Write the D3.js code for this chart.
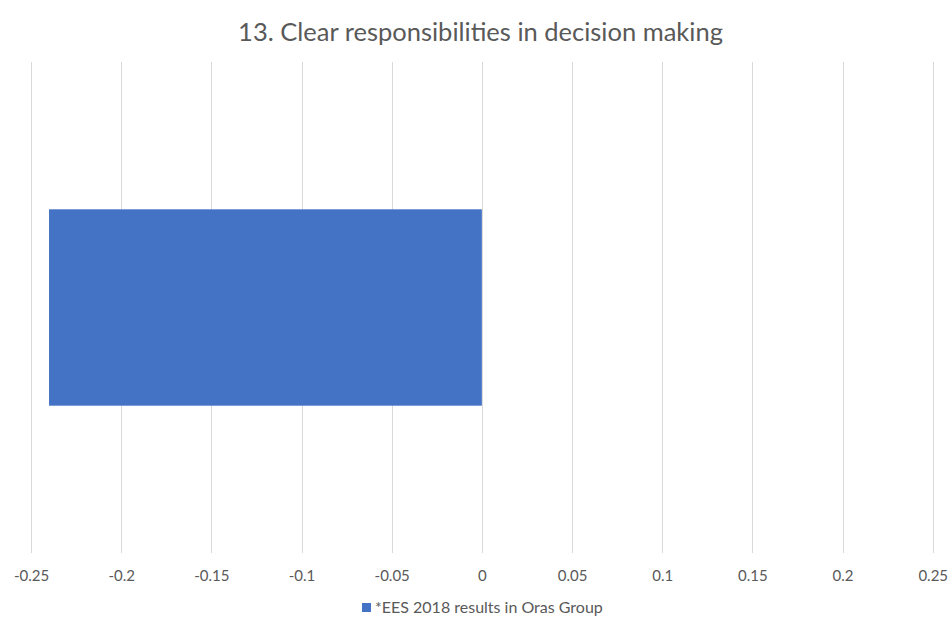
<!DOCTYPE html>
<html><head><meta charset="utf-8">
<script src="https://cdn.jsdelivr.net/npm/d3@7"></script>
<style>body{margin:0;background:#fff}svg{display:block}</style>
</head><body>
<script>
const title = "13. Clear responsibilities in decision making";
const categories = ["13"];
const values = [-0.24];
const seriesName = "*EES 2018 results in Oras Group";
const tickValues = [-0.25,-0.2,-0.15,-0.1,-0.05,0,0.05,0.1,0.15,0.2,0.25];

const W = 952, H = 617;
const svg = d3.select("body").append("svg").attr("width", W).attr("height", H);
const font = "Lato, 'Open Sans', sans-serif";

const x = d3.scaleLinear().domain([-0.25, 0.25]).range([31, 932.7]);
const y = d3.scaleBand().domain(categories).range([62, 553]).paddingInner(0.4286).paddingOuter(0.4286);

svg.append("text").attr("x", 480.5).attr("y", 41).attr("text-anchor", "middle")
  .attr("font-family", font).attr("font-size", 25.5).attr("fill", "#595959").text(title);

const grid = svg.append("g");
grid.selectAll("line").data(tickValues).join("line")
  .attr("x1", d => Math.round(x(d)) + 0.5).attr("x2", d => Math.round(x(d)) + 0.5)
  .attr("y1", 62).attr("y2", 553).attr("stroke", "#d9d9d9").attr("stroke-width", 1);

svg.selectAll("rect.bar").data(values).join("rect").attr("class", "bar")
  .attr("x", d => x(Math.min(0, d))).attr("width", d => Math.abs(x(d) - x(0)))
  .attr("y", (d, i) => y(categories[i])).attr("height", y.bandwidth())
  .attr("fill", "#4472c4");

const axis = d3.axisBottom(x).tickValues(tickValues).tickSize(0).tickPadding(0)
  .tickFormat(d => String(+d.toFixed(2)));
const ax = svg.append("g").attr("transform", "translate(0,570)").call(axis);
ax.select(".domain").remove();
ax.selectAll("text").attr("font-family", font).attr("font-size", 15).attr("fill", "#595959");

const leg = svg.append("g");
leg.append("rect").attr("x", 362).attr("y", 603).attr("width", 9).attr("height", 9).attr("fill", "#4472c4");
leg.append("text").attr("x", 375).attr("y", 613).attr("font-family", font).attr("font-size", 16)
  .attr("fill", "#595959").text(seriesName);
</script>
</body></html>
